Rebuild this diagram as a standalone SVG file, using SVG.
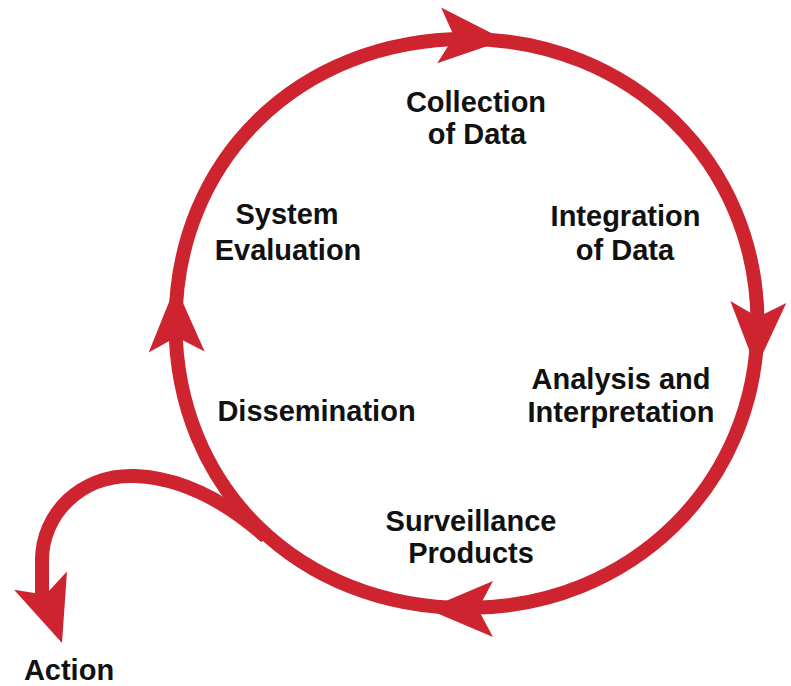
<svg xmlns="http://www.w3.org/2000/svg" width="791" height="686" viewBox="0 0 791 686">
<style>
.ln{fill:none;stroke:#cd2430;stroke-width:14}
.ah{fill:#cd2430}
.lb{font-family:"Liberation Sans",Arial,sans-serif;font-weight:bold;font-size:29px;fill:#111;text-anchor:middle}
</style>
<defs>
<polygon id="ah" points="0,0 -66,-28 -51,0 -66,28"/>
</defs>
<rect width="791" height="686" fill="#fff"/>
<g id="connectors">
<path class="ln" d="M466.5,39 C630.9,39 757.5,162.8 757.5,323.5 C757.5,484.2 630.9,608 466.5,608 C299.2,608 175.5,487.1 175.5,323.5 C175.5,159.9 299.2,39 466.5,39 Z"/>
<path class="ln" d="M266,537 C230,505 185,478 135,476 C80,474 42,515 42,560 L42,600"/>
<use href="#ah" class="ah" transform="translate(505,40) rotate(4)"/>
<use href="#ah" class="ah" transform="translate(756,368) rotate(92)"/>
<use href="#ah" class="ah" transform="translate(427,609) rotate(180)"/>
<use href="#ah" class="ah" transform="translate(175.5,286) rotate(-91)"/>
<use href="#ah" class="ah" transform="translate(62,643) rotate(71)"/>
</g>
<g id="collection"><text class="lb" x="476" y="112">Collection</text><text class="lb" x="477" y="144">of Data</text></g>
<g id="integration"><text class="lb" x="625.5" y="226">Integration</text><text class="lb" x="625" y="260">of Data</text></g>
<g id="analysis"><text class="lb" x="621" y="389">Analysis and</text><text class="lb" x="621" y="421.5">Interpretation</text></g>
<g id="products"><text class="lb" x="471" y="530.5">Surveillance</text><text class="lb" x="471" y="563">Products</text></g>
<g id="dissemination"><text class="lb" x="316.5" y="421">Dissemination</text></g>
<g id="evaluation"><text class="lb" x="287" y="224">System</text><text class="lb" x="288" y="259.5">Evaluation</text></g>
<g id="action"><text class="lb" x="69" y="680">Action</text></g>
</svg>
